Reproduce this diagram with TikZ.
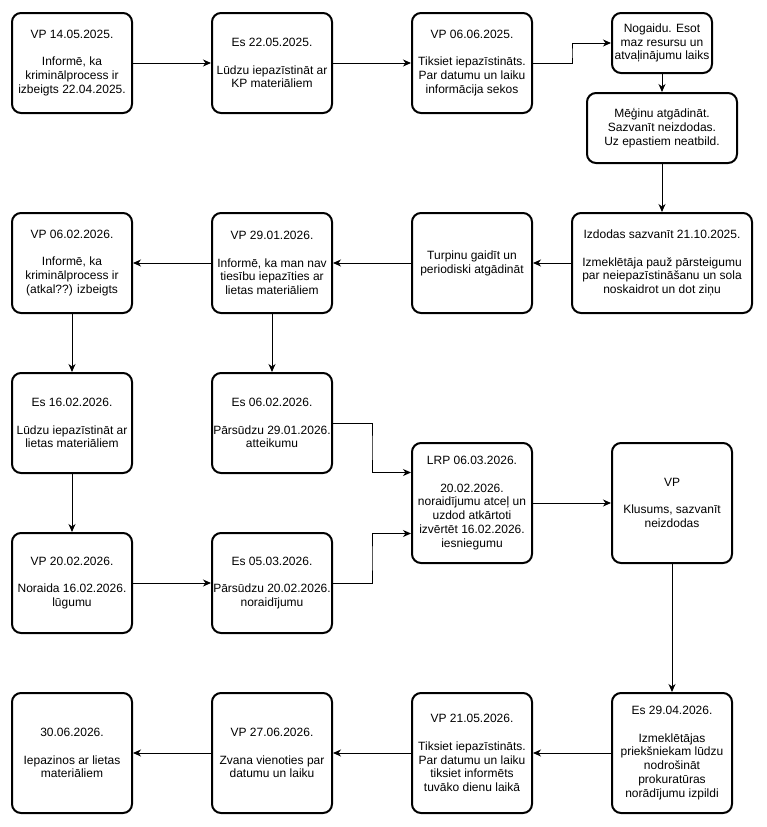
\documentclass[tikz,border=0pt]{standalone}
\usepackage{fontspec}
\setmainfont{Liberation Sans}
\usetikzlibrary{arrows.meta,calc}
\begin{document}
\begin{tikzpicture}[x=1pt,y=-1pt,
  box/.style={draw=black,line width=2pt,rounded corners=9pt,fill=white,align=center,
    font=\fontsize{12}{13.8}\selectfont,inner sep=0pt,outer sep=1pt,
    minimum width=120pt,minimum height=100pt},
  arr/.style={draw=black,line width=1pt,-{Stealth[length=8pt,width=7pt,inset=2.5pt]}}]
\useasboundingbox (0,0) rectangle (767,827);
% row 1
\node[box] (A) at (72,63) {VP 14.05.2025.\\[13.8pt]Informē, ka\\kriminālprocess ir\\izbeigts 22.04.2025.};
\node[box] (B) at (272,63) {Es 22.05.2025.\\[13.8pt]Lūdzu iepazīstināt ar\\KP materiāliem};
\node[box] (C) at (472,63) {VP 06.06.2025.\\[13.8pt]Tiksiet iepazīstināts.\\Par datumu un laiku\\informācija sekos};
\node[box,minimum width=100pt,minimum height=60pt] (D) at (662,43) {Nogaidu. Esot\\maz resursu un\\atvaļinājumu laiks};
\node[box,minimum width=150pt,minimum height=70pt] (E) at (662,128) {Mēģinu atgādināt.\\Sazvanīt neizdodas.\\Uz epastiem neatbild.};
% row 2
\node[box,minimum width=180pt] (I) at (662,263) {Izdodas sazvanīt 21.10.2025.\\[13.8pt]Izmeklētāja pauž pārsteigumu\\par neiepazīstināšanu un sola\\noskaidrot un dot ziņu};
\node[box] (H) at (472,263) {Turpinu gaidīt un\\periodiski atgādināt};
\node[box] (G) at (272,263) {VP 29.01.2026.\\[13.8pt]Informē, ka man nav\\tiesību iepazīties ar\\lietas materiāliem};
\node[box] (F) at (72,263) {VP 06.02.2026.\\[13.8pt]Informē, ka\\kriminālprocess ir\\(atkal??) izbeigts};
% row 3-4
\node[box] (J) at (72,423) {Es 16.02.2026.\\[13.8pt]Lūdzu iepazīstināt ar\\lietas materiāliem};
\node[box] (K) at (272,423) {Es 06.02.2026.\\[13.8pt]Pārsūdzu 29.01.2026.\\atteikumu};
\node[box] (L) at (72,583) {VP 20.02.2026.\\[13.8pt]Noraida 16.02.2026.\\lūgumu};
\node[box] (M) at (272,583) {Es 05.03.2026.\\[13.8pt]Pārsūdzu 20.02.2026.\\noraidījumu};
\node[box,minimum height=120pt] (N) at (472,503) {LRP 06.03.2026.\\[13.8pt]20.02.2026.\\noraidījumu atceļ un\\uzdod atkārtoti\\izvērtēt 16.02.2026.\\iesniegumu};
\node[box,minimum height=120pt] (O) at (672,503) {VP\\[13.8pt]Klusums, sazvanīt\\neizdodas};
% row 5
\node[box,minimum height=120pt] (P) at (672,753) {Es 29.04.2026.\\[13.8pt]Izmeklētājas\\priekšniekam lūdzu\\nodrošināt\\prokuratūras\\norādījumu izpildi};
\node[box,minimum height=120pt] (S) at (472,753) {VP 21.05.2026.\\[13.8pt]Tiksiet iepazīstināts.\\Par datumu un laiku\\tiksiet informēts\\tuvāko dienu laikā};
\node[box,minimum height=120pt] (R) at (272,753) {VP 27.06.2026.\\[13.8pt]Zvana vienoties par\\datumu un laiku};
\node[box,minimum height=120pt] (Q) at (72,753) {30.06.2026.\\[13.8pt]Iepazinos ar lietas\\materiāliem};
% connectors
\draw[arr] (A) -- (B);
\draw[arr] (B) -- (C);
\draw[arr] (C.east) -| ($(C.east)!0.5!(D.west)$) |- (D.west);
\draw[arr] (D) -- (E);
\draw[arr] (E) -- (I);
\draw[arr] (I) -- (H);
\draw[arr] (H) -- (G);
\draw[arr] (G) -- (F);
\draw[arr] (F) -- (J);
\draw[arr] (G) -- (K);
\draw[arr] (J) -- (L);
\draw[arr] (L) -- (M);
\coordinate (Nin1) at ($(N.north west)!0.25!(N.south west)$);
\coordinate (Nin2) at ($(N.north west)!0.75!(N.south west)$);
\draw[arr] (K.east) -| ($(K.east)!0.5!(Nin1)$) |- (Nin1);
\draw[arr] (M.east) -| ($(M.east)!0.5!(Nin2)$) |- (Nin2);
\draw[arr] (N) -- (O);
\draw[arr] (O) -- (P);
\draw[arr] (P) -- (S);
\draw[arr] (S) -- (R);
\draw[arr] (R) -- (Q);
\end{tikzpicture}
\end{document}
